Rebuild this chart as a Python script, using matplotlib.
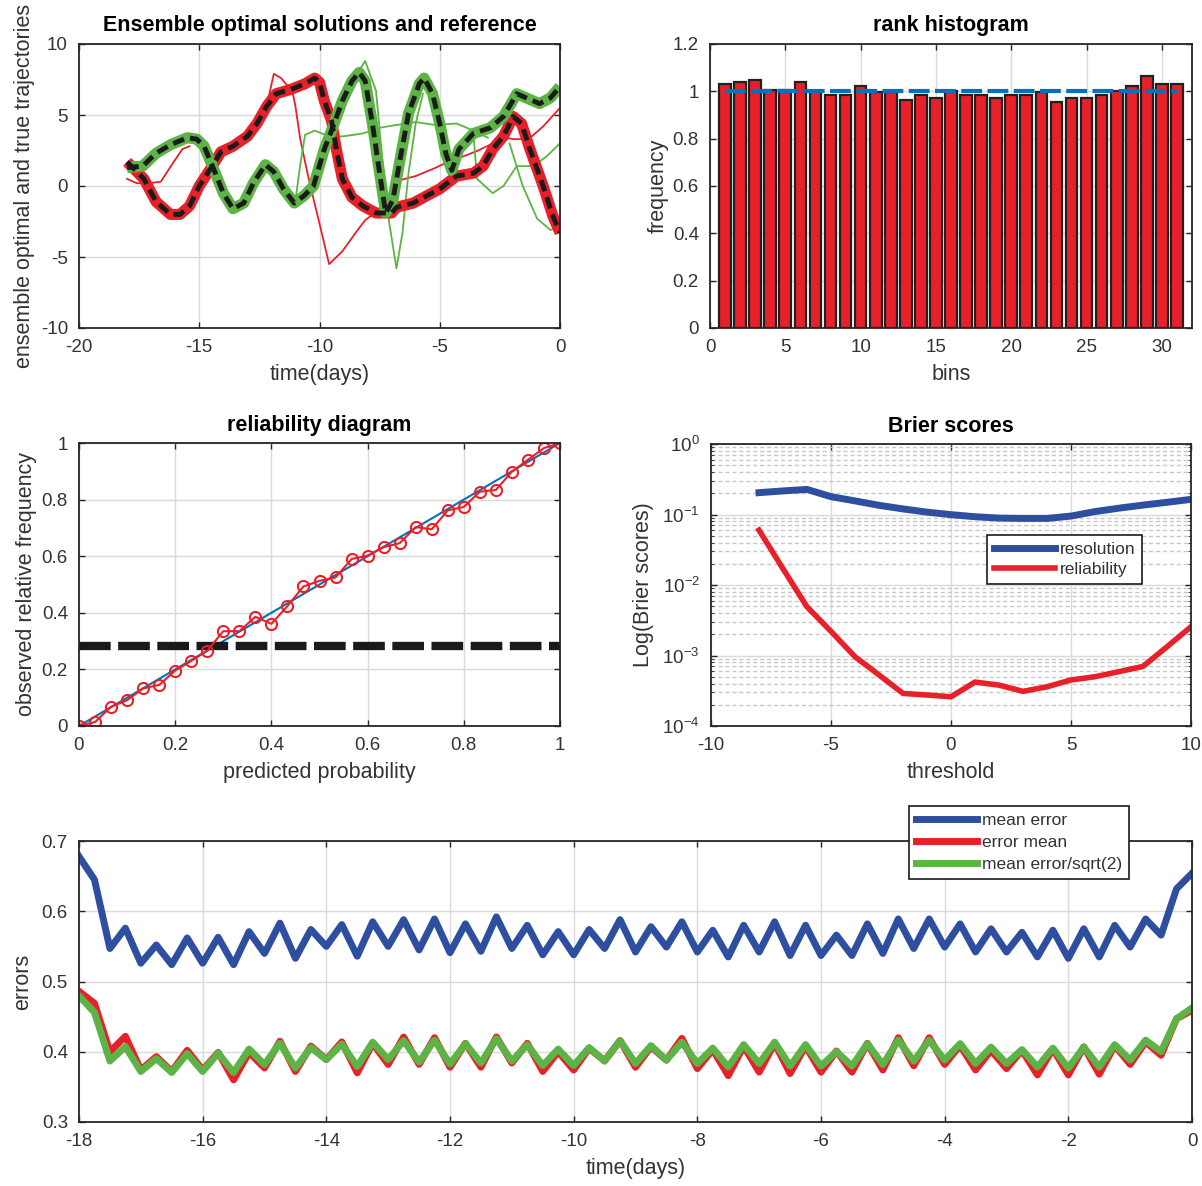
import numpy as np
import matplotlib
matplotlib.use("Agg")
import matplotlib.pyplot as plt
from matplotlib.ticker import FuncFormatter, LogLocator, NullFormatter

plt.rcParams['font.family'] = ['Liberation Sans', 'DejaVu Sans']
plt.rcParams['font.size'] = 13
plt.rcParams['axes.unicode_minus'] = False

# ---------------------------------------------------------------------------
# data
# ---------------------------------------------------------------------------
# top-left : two reference trajectories (black dashed) with their ensembles
path_a_x = [-18.0, -17.3, -16.8, -16.2, -15.8, -15.4, -15.0, -14.5, -14.1, -13.6,
            -13.0, -12.6, -12.2, -11.8, -11.2, -10.6, -10.2, -10.0, -9.8, -9.5,
            -9.3, -9.05, -8.65, -8.2, -7.65, -7.0, -6.8, -6.1, -5.55, -5.0,
            -4.3, -3.6, -3.2, -2.8, -2.35, -1.95, -1.6, -1.25, -0.7, -0.3, 0.0]
path_a_y = [1.7, 0.5, -1.1, -2.0, -2.0, -1.4, 0.0, 1.3, 2.4, 2.8,
            3.5, 4.4, 5.6, 6.5, 6.8, 7.2, 7.6, 7.3, 6.0, 4.6,
            2.6, 0.5, -0.8, -1.4, -1.9, -1.9, -1.5, -1.2, -0.7, -0.2,
            0.7, 0.9, 1.4, 2.6, 3.5, 4.9, 4.4, 2.6, 0.0, -2.1, -3.3]

path_b_x = [-18.0, -17.35, -16.8, -16.2, -15.5, -15.1, -14.8, -14.4, -14.0, -13.6,
            -13.15, -12.75, -12.25, -11.9, -11.5, -11.05, -10.65, -10.25, -9.8, -9.5,
            -9.05, -8.65, -8.35, -8.1, -7.8, -7.5, -7.25, -6.95, -6.7, -6.3,
            -5.85, -5.65, -5.3, -5.0, -4.75, -4.5, -4.2, -3.6, -2.9, -2.35,
            -2.0, -1.8, -1.4, -0.85, -0.4, 0.0]
path_b_y = [1.3, 1.4, 2.3, 2.9, 3.4, 3.3, 2.8, 1.2, -0.5, -1.6,
            -1.2, 0.2, 1.5, 1.0, -0.2, -1.2, -0.7, 0.0, 2.6, 3.9,
            6.0, 7.4, 8.0, 7.4, 4.4, 0.9, -1.9, -1.0, 1.4, 5.1,
            7.2, 7.6, 6.5, 4.4, 2.3, 1.1, 2.6, 3.7, 4.1, 4.9,
            5.9, 6.5, 6.2, 5.8, 6.2, 7.0]

# stray ensemble members
red_out1_x = [-18.0, -17.6, -17.1, -16.6, -16.1, -15.7, -15.4]
red_out1_y = [0.5, 0.2, 0.2, 0.3, 1.6, 2.6, 2.8]
red_out2_x = [-12.2, -11.9, -11.6, -11.35, -11.15, -11.0, -10.8, -10.5, -10.25,
              -9.95, -9.6, -9.05, -8.5, -8.1, -7.7]
red_out2_y = [5.6, 7.9, 7.6, 7.1, 6.9, 5.6, 3.3, 0.9, -0.9,
              -3.0, -5.5, -4.6, -3.3, -2.4, -1.9]
red_out3_x = [-7.3, -6.8, -6.0, -5.15, -4.6, -4.0, -3.4, -2.8, -2.3, -1.9, -1.3, -0.7, 0.0]
red_out3_y = [-1.6, 0.35, 0.7, 1.3, 1.75, 2.1, 2.5, 3.0, 3.4, 3.3, 3.3, 4.2, 5.5]

green_out1_x = [-11.0, -10.8, -10.6, -10.2, -9.6, -9.0, -8.2, -7.5, -6.8, -6.0,
                -5.2, -4.3, -3.6, -3.0]
green_out1_y = [-1.0, 1.5, 3.6, 3.9, 3.5, 3.5, 3.7, 4.1, 4.3, 4.5,
                4.3, 4.4, 3.9, 3.4]
green_out2_x = [-8.6, -8.1, -7.65, -7.4, -7.1, -6.8, -6.55, -6.3, -6.0, -5.7]
green_out2_y = [7.5, 8.8, 6.7, 2.1, -2.6, -5.8, -3.3, 0.9, 4.4, 6.5]
green_out3_x = [-3.6, -3.45, -2.8, -2.35, -1.8, -1.1, -0.55, 0.0]
green_out3_y = [3.7, 0.5, -0.5, 0.0, 1.4, 1.4, 2.1, 3.0]
green_out4_x = [-2.1, -1.55, -0.95, -0.4, 0.0]
green_out4_y = [3.0, 0.0, -2.3, -3.1, -2.8]

# top-right : rank histogram
rank_bins = np.arange(1, 32)
rank_freq = [1.031, 1.039, 1.049, 1.007, 1.005, 1.039, 1.0, 0.983, 0.983, 1.021,
             0.998, 0.998, 0.962, 0.983, 0.972, 1.0, 0.983, 0.983, 0.972, 0.983,
             0.983, 0.998, 0.953, 0.972, 0.972, 0.983, 1.0, 1.021, 1.063, 1.031,
             1.031]

# middle-left : reliability diagram
pred_prob = np.arange(31) / 30
obs_freq = [0.0, 0.014, 0.068, 0.091, 0.133, 0.145, 0.196, 0.230, 0.266, 0.335,
            0.335, 0.386, 0.361, 0.424, 0.493, 0.513, 0.525, 0.590, 0.602, 0.632,
            0.646, 0.703, 0.695, 0.762, 0.774, 0.828, 0.834, 0.899, 0.941, 0.982,
            1.0]
climatology = 0.281

# middle-right : Brier scores
threshold = np.arange(-8, 11)
resolution = [0.204, 0.216, 0.227, 0.179, 0.156, 0.135, 0.120, 0.108, 0.0995, 0.093,
              0.089, 0.088, 0.088, 0.095, 0.110, 0.123, 0.136, 0.149, 0.164]
reliability = [0.060, 0.017, 0.0049, 0.0022, 0.00096, 0.00053, 0.00029, 0.000275,
               0.00026, 0.00042, 0.00038, 0.00031, 0.00036, 0.00045, 0.00050,
               0.00059, 0.00070, 0.00133, 0.00256]

# bottom : errors
err_time = np.arange(-18, 0.01, 0.25)
mean_error = [0.678, 0.645, 0.547, 0.576, 0.526, 0.552, 0.524, 0.562, 0.526, 0.563,
              0.524, 0.571, 0.540, 0.583, 0.533, 0.574, 0.550, 0.581, 0.536, 0.585,
              0.550, 0.588, 0.545, 0.589, 0.541, 0.582, 0.543, 0.592, 0.547, 0.580,
              0.538, 0.571, 0.538, 0.574, 0.547, 0.588, 0.542, 0.578, 0.549, 0.585,
              0.542, 0.573, 0.535, 0.580, 0.542, 0.585, 0.537, 0.580, 0.537, 0.566,
              0.537, 0.582, 0.540, 0.589, 0.547, 0.589, 0.549, 0.582, 0.542, 0.575,
              0.542, 0.570, 0.535, 0.573, 0.533, 0.575, 0.535, 0.580, 0.549, 0.589,
              0.566, 0.632, 0.654]
error_mean = [0.486, 0.469, 0.400, 0.422, 0.374, 0.393, 0.372, 0.402, 0.374, 0.399,
              0.360, 0.399, 0.377, 0.415, 0.372, 0.408, 0.389, 0.414, 0.370, 0.412,
              0.382, 0.421, 0.382, 0.420, 0.378, 0.412, 0.378, 0.421, 0.384, 0.412,
              0.372, 0.400, 0.374, 0.405, 0.387, 0.416, 0.378, 0.407, 0.388, 0.419,
              0.376, 0.403, 0.366, 0.408, 0.371, 0.412, 0.369, 0.408, 0.371, 0.401,
              0.371, 0.412, 0.374, 0.420, 0.380, 0.420, 0.382, 0.409, 0.374, 0.402,
              0.376, 0.402, 0.367, 0.404, 0.367, 0.407, 0.368, 0.409, 0.382, 0.414,
              0.395, 0.447, 0.459]

# ---------------------------------------------------------------------------
RED = '#E8202A'
GREEN = '#5DB346'
DBLUE = '#2E4FA0'
MBLUE = '#0072BD'
AXC = '#262626'
TXC = '#333333'
GRIDC = '#DADADA'
LABEL_FS = 15.5
TITLE_FS = 15.5

g = lambda v, pos: '%g' % v


def matlab_axes(ax):
    ax.tick_params(direction='in', top=True, right=True, length=4.5, width=1,
                   colors=AXC, labelcolor=TXC, labelsize=13.5, pad=8)
    for s in ax.spines.values():
        s.set_color(AXC)
        s.set_linewidth(1.3)
    ax.grid(True, color=GRIDC, lw=1.0)
    ax.set_axisbelow(True)


def labels(ax, xl, yl, title=None, ypad=3):
    ax.set_xlabel(xl, color=TXC, fontsize=LABEL_FS, labelpad=6)
    ax.set_ylabel(yl, color=TXC, fontsize=LABEL_FS, labelpad=ypad)
    if title:
        ax.set_title(title, fontweight='bold', fontsize=TITLE_FS, pad=9)


def make_legend(ax, x0, y0, spacing):
    leg = ax.legend(loc='upper left', bbox_to_anchor=(x0 / W, 1 - y0 / H),
                    bbox_transform=fig.transFigure, borderaxespad=0,
                    fontsize=12.5, handlelength=3.5, fancybox=False, framealpha=1,
                    edgecolor='#1A1A1A', borderpad=0.4, labelspacing=spacing,
                    handletextpad=0.3)
    leg.get_frame().set_linewidth(1.2)
    for t in leg.get_texts():
        t.set_color(TXC)
    return leg


W, H = 1202, 1186
fig = plt.figure(figsize=(W / 100, H / 100), dpi=100)


def add_ax(x0, y0, x1, y1):
    return fig.add_axes([x0 / W, 1 - y1 / H, (x1 - x0) / W, (y1 - y0) / H])


# ---- trajectories ---------------------------------------------------------
ax1 = add_ax(79, 44, 560, 328)
matlab_axes(ax1)
for xs, ys in [(red_out1_x, red_out1_y), (red_out2_x, red_out2_y), (red_out3_x, red_out3_y)]:
    ax1.plot(xs, ys, color=RED, lw=1.3)
for xs, ys in [(green_out1_x, green_out1_y), (green_out2_x, green_out2_y),
               (green_out3_x, green_out3_y), (green_out4_x, green_out4_y)]:
    ax1.plot(xs, ys, color=GREEN, lw=1.3)
ax1.plot(path_a_x, path_a_y, color=RED, lw=8, solid_joinstyle='round', solid_capstyle='butt')
ax1.plot(path_b_x, path_b_y, color=GREEN, lw=8, solid_joinstyle='round', solid_capstyle='butt')
ax1.plot(path_a_x, path_a_y, color='#1A1A1A', lw=3.5, dashes=(2.4, 1.3))
ax1.plot(path_b_x, path_b_y, color='#1A1A1A', lw=3.5, dashes=(2.4, 1.3))
ax1.set_xlim(-20, 0)
ax1.set_ylim(-10, 10)
ax1.set_xticks(np.arange(-20, 1, 5))
ax1.set_yticks(np.arange(-10, 11, 5))
labels(ax1, 'time(days)', 'ensemble optimal and true trajectories',
       'Ensemble optimal solutions and reference', ypad=4)

# ---- rank histogram -------------------------------------------------------
ax2 = add_ax(710, 44, 1192, 328)
matlab_axes(ax2)
ax2.bar(rank_bins, rank_freq, width=0.78, color=RED, edgecolor='#231F20', linewidth=1.6)
ax2.plot([1, 31], [1, 1], color=MBLUE, lw=3, dashes=(5, 1.3))
ax2.set_xlim(0, 32)
ax2.set_ylim(0, 1.2)
ax2.set_xticks(np.arange(0, 31, 5))
ax2.set_yticks(np.arange(0, 1.21, 0.2))
ax2.yaxis.set_major_formatter(FuncFormatter(g))
labels(ax2, 'bins', 'frequency', 'rank histogram')

# ---- reliability diagram --------------------------------------------------
ax3 = add_ax(79, 443, 560, 726)
matlab_axes(ax3)
ax3.plot([0, 1], [0, 1], color=MBLUE, lw=1.5)
ax3.plot([0, 1], [climatology, climatology], color='#1A1A1A', lw=6, dashes=(3.8, 0.9))
ax3.plot(pred_prob, obs_freq, color=RED, lw=1.5, marker='o', ms=8, mfc='none',
         mec=RED, mew=1.5)
ax3.set_xlim(0, 1)
ax3.set_ylim(0, 1)
ax3.set_xticks(np.arange(0, 1.01, 0.2))
ax3.set_yticks(np.arange(0, 1.01, 0.2))
ax3.xaxis.set_major_formatter(FuncFormatter(g))
ax3.yaxis.set_major_formatter(FuncFormatter(g))
labels(ax3, 'predicted probability', 'observed relative frequency', 'reliability diagram')

# ---- Brier scores ---------------------------------------------------------
ax4 = add_ax(711, 444, 1191, 726)
matlab_axes(ax4)
ax4.set_yscale('log')
ax4.plot(threshold, resolution, color=DBLUE, lw=5, label='resolution')
ax4.plot(threshold, reliability, color=RED, lw=4, label='reliability')
ax4.set_xlim(-10, 10)
ax4.set_ylim(1e-4, 1)
ax4.set_xticks(np.arange(-10, 11, 5))
ax4.yaxis.set_major_locator(LogLocator(base=10, numticks=10))
ax4.yaxis.set_minor_locator(LogLocator(base=10, subs=np.arange(2, 10), numticks=10))
ax4.yaxis.set_minor_formatter(NullFormatter())
ax4.tick_params(which='minor', direction='in', right=True, length=2.5, color=AXC)
ax4.grid(True, which='minor', axis='y', color='#C8C8C8', lw=1.0, ls=(0, (3, 2)))
labels(ax4, 'threshold', 'Log(Brier scores)', 'Brier scores', ypad=6)
make_legend(ax4, 987, 535, 0.3)

# ---- errors ---------------------------------------------------------------
ax5 = add_ax(79, 841, 1192, 1122)
matlab_axes(ax5)
ax5.plot(err_time, mean_error, color=DBLUE, lw=5, label='mean error')
ax5.plot(err_time, error_mean, color=RED, lw=5, label='error mean')
ax5.plot(err_time, np.array(mean_error) / np.sqrt(2), color=GREEN, lw=5,
         label='mean error/sqrt(2)')
ax5.set_xlim(-18, 0)
ax5.set_ylim(0.3, 0.7)
ax5.set_xticks(np.arange(-18, 1, 2))
ax5.set_yticks(np.arange(0.3, 0.71, 0.1))
ax5.yaxis.set_major_formatter(FuncFormatter(g))
labels(ax5, 'time(days)', 'errors', ypad=6)
make_legend(ax5, 909, 806, 0.4)

fig.savefig('out.png', dpi=100)
